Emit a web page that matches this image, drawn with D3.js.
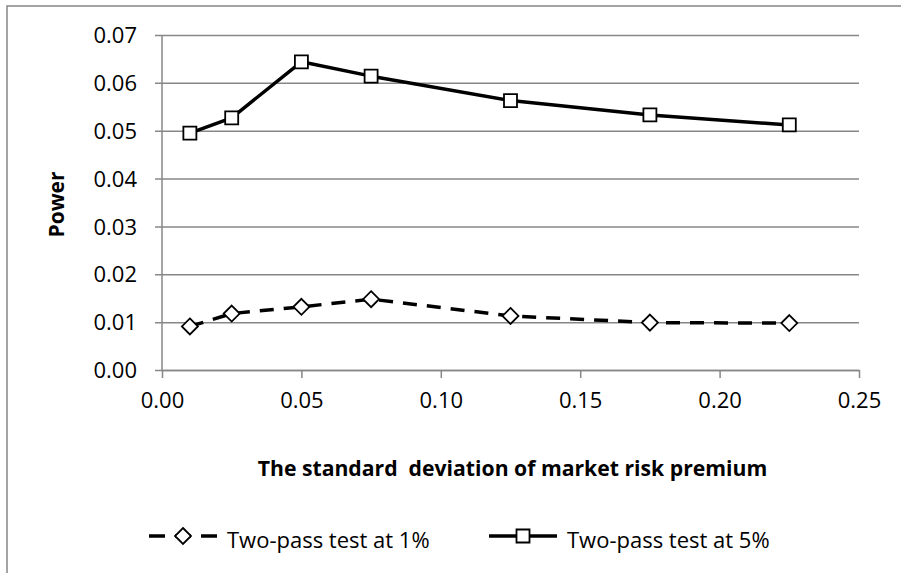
<!DOCTYPE html>
<html>
<head>
<meta charset="utf-8">
<script src="https://cdn.jsdelivr.net/npm/d3@7"></script>
<style>
  html, body { margin: 0; padding: 0; background: #fff; }
  svg { display: block; }
  text { font-family: "Open Sans", "Noto Sans", sans-serif; fill: #000; }
</style>
</head>
<body>
<svg id="chart" width="901" height="573"></svg>
<script>
// ---- data ----
const sdValues = [0.01, 0.025, 0.05, 0.075, 0.125, 0.175, 0.225];
const power1 = [0.0091, 0.0118, 0.0132, 0.0148, 0.0113, 0.0099, 0.0098];
const power5 = [0.0495, 0.0527, 0.0644, 0.0614, 0.0563, 0.0533, 0.0512];
const seriesNames = ["Two-pass test at 1%", "Two-pass test at 5%"];
const xTicks = [0, 0.05, 0.10, 0.15, 0.20, 0.25];
const yTicks = [0, 0.01, 0.02, 0.03, 0.04, 0.05, 0.06, 0.07];
const xTitle = "The standard  deviation of market risk premium";
const yTitle = "Power";

// ---- layout ----
const svg = d3.select("#chart");
const grey = "#878787";
const plot = { left: 162, right: 859, top: 35, bottom: 370 };

const x = d3.scaleLinear().domain([0, 0.25]).range([plot.left, plot.right]);
const y = d3.scaleLinear().domain([0, 0.07]).range([plot.bottom, plot.top]);

// chart area border (only left/top visible in crop)
svg.append("rect").attr("x", 7).attr("y", 6).attr("width", 960).attr("height", 640)
  .attr("fill", "none").attr("stroke", grey).attr("stroke-width", 1.5);

// gridlines + y axis ticks
const yAxis = d3.axisLeft(y).tickValues(yTicks).tickFormat(d3.format(".2f"))
  .tickSize(-(plot.right - plot.left)).tickPadding(25);
const gy = svg.append("g").attr("transform", `translate(${plot.left},0)`).call(yAxis);
gy.select(".domain").remove();
gy.selectAll(".tick line").attr("x1", -7).attr("stroke", grey).attr("stroke-width", 1.5);
gy.selectAll(".tick text").attr("font-size", 22).attr("font-family", "Open Sans")
  .attr("dy", "0.35em").attr("fill", "#000");

// y axis line
svg.append("line").attr("x1", plot.left).attr("x2", plot.left)
  .attr("y1", plot.top).attr("y2", plot.bottom)
  .attr("stroke", grey).attr("stroke-width", 1.5);

// x axis
const xAxis = d3.axisBottom(x).tickValues(xTicks).tickFormat(d3.format(".2f"))
  .tickSize(8).tickPadding(14).tickSizeOuter(0);
const gx = svg.append("g").attr("transform", `translate(0,${plot.bottom})`).call(xAxis);
gx.select(".domain").attr("stroke", grey).attr("stroke-width", 1.5);
gx.selectAll(".tick line").attr("stroke", grey).attr("stroke-width", 1.5);
gx.selectAll(".tick text").attr("font-size", 22).attr("font-family", "Open Sans").attr("fill", "#000");

// axis titles
svg.append("text").attr("x", (plot.left + plot.right) / 2 + 2).attr("y", 476)
  .attr("text-anchor", "middle").attr("font-weight", "bold").attr("font-size", 21.2)
  .style("white-space", "pre").text(xTitle);
svg.append("text").attr("transform", `translate(64,${(plot.top + plot.bottom) / 2 + 2}) rotate(-90)`)
  .attr("text-anchor", "middle").attr("font-weight", "bold").attr("font-size", 21)
  .text(yTitle);

// ---- series ----
const line = d3.line().x(d => x(d[0])).y(d => y(d[1]));
const data1 = sdValues.map((s, i) => [s, power1[i]]);
const data5 = sdValues.map((s, i) => [s, power5[i]]);

svg.append("path").datum(data1).attr("d", line).attr("fill", "none")
  .attr("stroke", "#000").attr("stroke-width", 3.5).attr("stroke-dasharray", "14,10");
svg.append("path").datum(data5).attr("d", line).attr("fill", "none")
  .attr("stroke", "#000").attr("stroke-width", 3.5).attr("stroke-linejoin", "round");

const diamond = (cx, cy, r) => `M${cx},${cy - r}L${cx + r},${cy}L${cx},${cy + r}L${cx - r},${cy}Z`;
const square = (cx, cy, r) => `M${cx - r},${cy - r}H${cx + r}V${cy + r}H${cx - r}Z`;

svg.append("g").selectAll("path").data(data1).join("path")
  .attr("d", d => diamond(x(d[0]), y(d[1]), 8))
  .attr("fill", "#fff").attr("stroke", "#000").attr("stroke-width", 1.8);
svg.append("g").selectAll("path").data(data5).join("path")
  .attr("d", d => square(x(d[0]), y(d[1]), 6.5))
  .attr("fill", "#fff").attr("stroke", "#000").attr("stroke-width", 1.8);

// ---- legend ----
const legY = 536;
const leg = [
  { name: seriesNames[0], x0: 149, dash: "14,10", marker: diamond, r: 8 },
  { name: seriesNames[1], x0: 489, dash: null, marker: square, r: 6.5 }
];
leg.forEach(l => {
  svg.append("line").attr("x1", l.x0).attr("x2", l.x0 + 68).attr("y1", legY).attr("y2", legY)
    .attr("stroke", "#000").attr("stroke-width", 3.5)
    .attr("stroke-dasharray", l.dash ? "16,10" : null);
  svg.append("path").attr("d", l.marker(l.x0 + 34, legY, l.r))
    .attr("fill", "#fff").attr("stroke", "#000").attr("stroke-width", 1.8);
  svg.append("text").attr("x", l.x0 + 78).attr("y", 548).attr("font-size", 22).text(l.name);
});
</script>
</body>
</html>
